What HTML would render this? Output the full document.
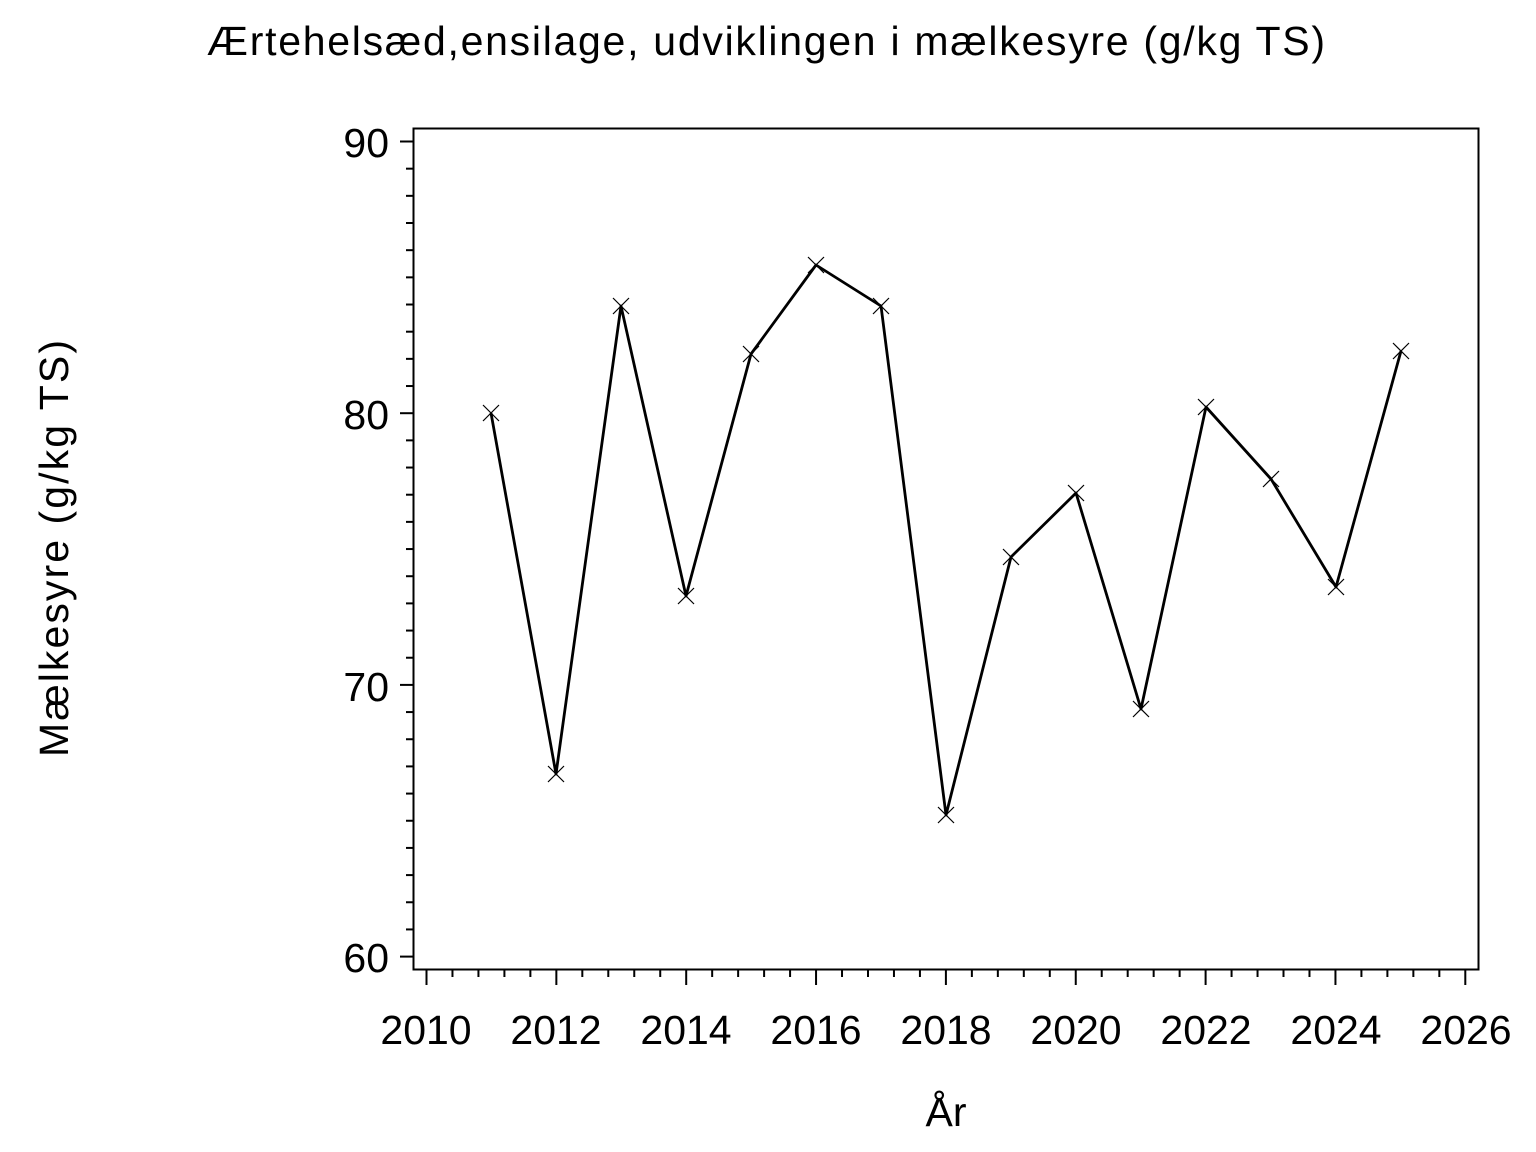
<!DOCTYPE html>
<html><head><style>body{margin:0;background:#fff}svg{display:block}text{font-family:"Liberation Sans",sans-serif;fill:#000}</style></head>
<body>
<svg width="1536" height="1152" xmlns="http://www.w3.org/2000/svg">
<text x="207" y="55" font-size="41" textLength="1118" lengthAdjust="spacing">Ærtehelsæd,ensilage,  udviklingen  i  mælkesyre  (g/kg  TS)</text>
<rect x="413.5" y="128.5" width="1065" height="841" fill="none" stroke="#000" stroke-width="2"/>
<g stroke="#000" stroke-width="2" id="yt"></g>
<g stroke="#000" stroke-width="2" id="xt"></g>
<g font-size="41">
<text x="389" y="157" text-anchor="end">90</text>
<text x="389" y="429" text-anchor="end">80</text>
<text x="389" y="701" text-anchor="end">70</text>
<text x="389" y="972" text-anchor="end">60</text>
<text x="426" y="1044" text-anchor="middle">2010</text>
<text x="556" y="1044" text-anchor="middle">2012</text>
<text x="686" y="1044" text-anchor="middle">2014</text>
<text x="816" y="1044" text-anchor="middle">2016</text>
<text x="946" y="1044" text-anchor="middle">2018</text>
<text x="1076" y="1044" text-anchor="middle">2020</text>
<text x="1206" y="1044" text-anchor="middle">2022</text>
<text x="1336" y="1044" text-anchor="middle">2024</text>
<text x="1466" y="1044" text-anchor="middle">2026</text>
<text x="946" y="1126" text-anchor="middle">År</text>
<text transform="translate(68,757) rotate(-90)" textLength="417" lengthAdjust="spacing">Mælkesyre  (g/kg  TS)</text>
</g>
<polyline fill="none" stroke="#000" stroke-width="2.8" stroke-linejoin="round" points="491,413 556,774 621,306 686,596 751,354 816,265 881,306 946,815 1011,557 1076,493 1141,709 1206,407 1271,479 1336,587 1401,351"/>
<g id="mk" stroke="#000" stroke-width="1.2"></g>
</svg>
<script>
var ns="http://www.w3.org/2000/svg";
function L(g,x1,y1,x2,y2){var l=document.createElementNS(ns,"line");l.setAttribute("x1",x1);l.setAttribute("y1",y1);l.setAttribute("x2",x2);l.setAttribute("y2",y2);document.getElementById(g).appendChild(l);}
for(var i=0;i<=30;i++){var y=141.5+i*27.17;L("yt",i%10==0?400:406,y,413,y);}
for(var i=0;i<=40;i++){var x=426.5+i*25.97;L("xt",x,970,x,i%5==0?985:977);}
var p=[[491,413],[556,774],[621,306],[686,596],[751,354],[816,265],[881,306],[946,815],[1011,557],[1076,493],[1141,709],[1206,407],[1271,479],[1336,587],[1401,351]];
p.forEach(function(q){L("mk",q[0]-8,q[1]-8,q[0]+8,q[1]+8);L("mk",q[0]-8,q[1]+8,q[0]+8,q[1]-8);});
</script>
</body></html>
